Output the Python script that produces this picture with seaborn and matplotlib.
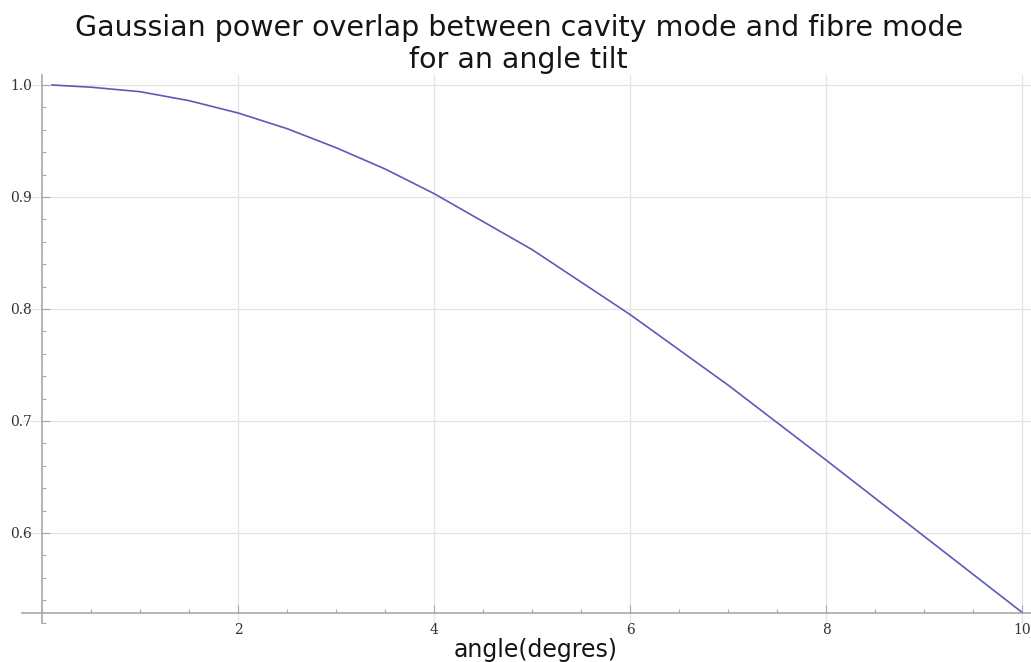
import numpy as np
import pandas as pd
import matplotlib
matplotlib.use("Agg")
import matplotlib.pyplot as plt
import seaborn as sns
from matplotlib.ticker import MultipleLocator

# angle tilt (degrees) and overlap
angle = [0.1, 0.5, 1.0, 1.5, 2.0, 2.5, 3.0, 3.5, 4.0, 5.0, 6.0, 7.0, 8.0, 9.0, 10.0]
overlap = [1.0, 0.998, 0.994, 0.986, 0.975, 0.961, 0.944, 0.925, 0.903, 0.853, 0.795, 0.732, 0.665, 0.597, 0.529]

data = pd.DataFrame({'angle': angle, 'overlap': overlap})

sns.set_style("white")

fig = plt.figure(figsize=(10.31, 6.62), dpi=100)
ax = fig.add_axes([22/1031, 1 - 623/662, 1 - 22/1031, (623 - 75)/662])

sns.lineplot(x='angle', y='overlap', data=data, ax=ax, color='#5b5bb8', linewidth=1.2)

ax.set_xlim(-0.204, 10.09)
ax.set_ylim(0.5196, 1.0089)

ax.spines['top'].set_visible(False)
ax.spines['right'].set_visible(False)
ax.spines['left'].set_position(('data', 0))
ax.spines['bottom'].set_position(('data', 0.5286))
for s in ['left', 'bottom']:
    ax.spines[s].set_color('#a8a8a8')
    ax.spines[s].set_linewidth(1.2)

ax.xaxis.set_minor_locator(MultipleLocator(0.5))
ax.yaxis.set_minor_locator(MultipleLocator(0.02))
ax.set_xticks([2, 4, 6, 8, 10])
ax.set_yticks([0.6, 0.7, 0.8, 0.9, 1.0])
ax.set_xticklabels(['2', '4', '6', '8', '10'])
ax.set_yticklabels(['0.6', '0.7', '0.8', '0.9', '1.0'])

ax.tick_params(which='major', direction='in', length=6, width=0.8, color='#a8a8a8',
               labelsize=10, labelcolor='#333333', pad=7)
ax.tick_params(which='minor', direction='in', length=3, width=0.8, color='#a8a8a8')
ax.tick_params(axis='x', which='both', bottom=True)
ax.tick_params(axis='y', which='both', left=True)
for lab in ax.get_xticklabels() + ax.get_yticklabels():
    lab.set_family('DejaVu Sans' if False else 'DejaVu Serif')

ax.grid(True, which='major', color='#e4e4e4', linewidth=0.9)
ax.set_axisbelow(True)

ax.set_xlabel('')
ax.set_ylabel('')
fig.text(536/1031, 1 - 650/662, 'angle(degres)', ha='center', va='center', fontsize=17, color='#151515')
fig.text(0.503, 1 - 44/662, 'Gaussian power overlap between cavity mode and fibre mode\nfor an angle tilt',
         ha='center', va='center', fontsize=20.5, color='#151515', linespacing=1.15)

fig.savefig('out.png', dpi=100)
